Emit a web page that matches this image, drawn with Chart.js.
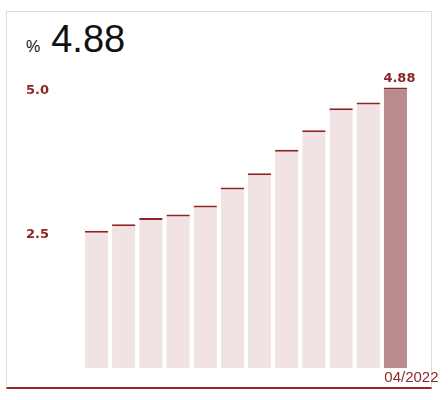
<!DOCTYPE html>
<html>
<head>
<meta charset="utf-8">
<script src="https://cdn.jsdelivr.net/npm/chart.js@4"></script>
<style>
  html, body { margin: 0; padding: 0; background: #fff; }
  body { width: 448px; height: 400px; position: relative; overflow: hidden; }
  #cartao {
    position: absolute; left: 6px; top: 11px; width: 424px; height: 375px;
    border: 1px solid #dcdcdc; border-bottom: 2px solid #952a2a;
  }
  #titulo {
    position: absolute; left: 26px; top: 18px;
    display: flex; align-items: baseline;
    font-family: "Liberation Sans", Arial, sans-serif; color: #111;
  }
  #titulo .unidade { font-size: 16px; margin-right: 11px; }
  #titulo .valor { font-size: 38px; }
  #grafico { position: absolute; left: 0; top: 0; }
</style>
</head>
<body>
<div id="cartao"></div>
<div id="titulo"><span class="unidade">%</span><span class="valor">4.88</span></div>
<canvas id="grafico" width="448" height="400"></canvas>
<script>
const meses = ["05/2021", "06/2021", "07/2021", "08/2021", "09/2021", "10/2021",
  "11/2021", "12/2021", "01/2022", "02/2022", "03/2022", "04/2022"];
const valores = [2.39, 2.50, 2.61, 2.67, 2.83, 3.14, 3.39, 3.80, 4.14, 4.52, 4.62, 4.88];
const marcasY = [2.5, 5.0];

const vermelho = "#8e2525";
const ultimo = valores.length - 1;

const rotuloUltimo = {
  id: "rotuloUltimo",
  afterDatasetsDraw(chart) {
    const barra = chart.getDatasetMeta(0).data[ultimo];
    const ctx = chart.ctx;
    ctx.save();
    ctx.font = "bold 13px 'DejaVu Sans'";
    ctx.fillStyle = vermelho;
    ctx.textAlign = "center";
    ctx.textBaseline = "alphabetic";
    ctx.fillText(valores[ultimo].toFixed(2), barra.x + 4, barra.y - 6);
    ctx.restore();
  }
};

new Chart(document.getElementById("grafico"), {
  type: "bar",
  data: {
    labels: meses,
    datasets: [{
      data: valores,
      backgroundColor: valores.map((v, i) => i === ultimo ? "#b98b8c" : "#f1e2e4"),
      borderColor: vermelho,
      borderWidth: { top: 2, right: 0, bottom: 0, left: 0 },
      borderSkipped: false,
      barPercentage: 0.86,
      categoryPercentage: 1
    }]
  },
  options: {
    responsive: false,
    animation: false,
    devicePixelRatio: 1,
    layout: { padding: { left: 26, right: 39, top: 52, bottom: 0 } },
    plugins: { legend: { display: false }, tooltip: { enabled: false } },
    scales: {
      x: {
        grid: { display: false, drawTicks: false, tickLength: 0 },
        border: { display: false },
        afterFit: s => { s.height = 32; },
        ticks: {
          autoSkip: false,
          maxRotation: 0,
          padding: 1,
          labelOffset: 16,
          color: "#8e2a2a",
          font: { family: "'Liberation Sans'", size: 15 },
          callback: (v, i) => i === ultimo ? meses[i] : ""
        }
      },
      y: {
        min: 0,
        max: 5.5,
        grid: { display: false, drawTicks: false, tickLength: 0 },
        border: { display: false },
        afterFit: s => { s.width = 57; },
        afterBuildTicks: s => { s.ticks = marcasY.map(v => ({ value: v })); },
        ticks: {
          crossAlign: "far",
          labelOffset: 10,
          color: vermelho,
          font: { family: "'DejaVu Sans'", size: 13, weight: "bold" },
          callback: v => v.toFixed(1)
        }
      }
    }
  },
  plugins: [rotuloUltimo]
});
</script>
</body>
</html>
